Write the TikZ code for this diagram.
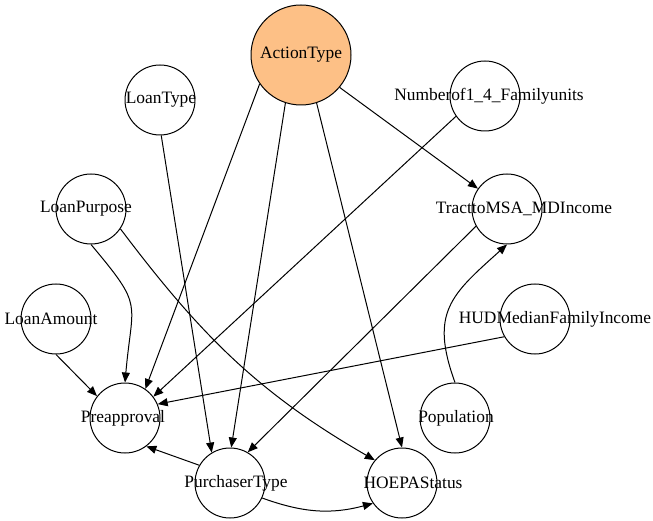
\documentclass[tikz,border=0pt]{standalone}
\usepackage{fontspec}
\setmainfont{Liberation Serif}
\usetikzlibrary{arrows.meta}
\definecolor{actfill}{HTML}{FDC086}
\tikzset{
->, % every edge of the network is directed
>={Triangle[length=10pt,width=8pt]}, % filled heads as in the layout tool
x=1pt, y=1pt, % coordinates are read as pixels of the layout
var/.style={circle, draw, minimum size=70pt, inner sep=0pt}, % one variable of the network
}
% lets the name run past the circle, shifted by #1
\newcommand{\varname}[2][0pt]{\makebox[0pt]{\hspace*{#1}\hspace*{#1}#2}}

\begin{document}
\begin{tikzpicture}[
  line width=1pt,
  every node/.style={font=\fontsize{17.4}{20}\selectfont}
]
  \useasboundingbox (0,0) rectangle (653,520);

  \node[var, fill=actfill, minimum size=100pt] (act) at (301,465) {\varname{ActionType}};
  \node[var] (ltype) at (160,420) {\varname[1pt]{LoanType}};
  \node[var] (nfam) at (485,424) {\varname[4pt]{Numberof1\_4\_Familyunits}};
  \node[var] (lpur) at (91,311) {\varname[-5pt]{LoanPurpose}};
  \node[var] (tract) at (507,311) {\varname[17pt]{TracttoMSA\_MDIncome}};
  \node[var] (lamt) at (56,201) {\varname[-5pt]{LoanAmount}};
  \node[var] (hud) at (535,201) {\varname[20pt]{HUDMedianFamilyIncome}};
  \node[var] (pre) at (125,102) {\varname[-2pt]{Preapproval}};
  \node[var] (pop) at (455,102) {\varname[1pt]{Population}};
  \node[var] (pur) at (230,37) {\varname[6pt]{PurchaserType}};
  \node[var] (hoepa) at (402,37) {\varname[11pt]{HOEPAStatus}};

  \draw (act.215) -- (pre.55);
  \draw (act.252) -- (pur.88);
  \draw (act.-72) -- (hoepa.90);
  \draw (act.-40) -- (tract.145);
  \draw (ltype.-88) -- (pur.121);
  \draw (nfam.215) -- (pre.37);
  \draw (tract.209) -- (pur.60);
  \draw (hud.210) -- (pre.23);
  \draw (pur.150) -- (pre.-53);
  \draw (lamt.south) -- (pre.142);
  \draw (lpur.south) to[out=-50,in=85,looseness=1.5] (pre.north);
  \draw (lpur.-34) to[out=-53,in=150] (hoepa.140);
  \draw (pop.north) to[out=110,in=222,looseness=1.3] (tract.south);
  \draw (pur.-25) to[out=-20,in=195] (hoepa.215);
\end{tikzpicture}
\end{document}
